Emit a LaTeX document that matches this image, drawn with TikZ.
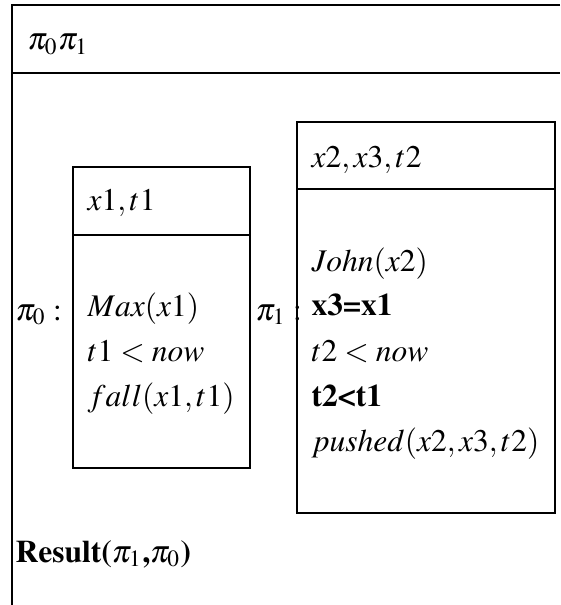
\documentclass[tikz,border=0pt]{standalone}
\usepackage[T1]{fontenc}
\usepackage{mathptmx}
\usetikzlibrary{positioning}

\begin{document}
\begin{tikzpicture}[x=0.3333pt, y=-0.3333pt,
  every node/.style={inner sep=0pt, anchor=base west,
    font=\fontsize{10.5}{13}\selectfont}]
  \useasboundingbox (0,0) rectangle (560,605);
  % outer box (runs off the page right and bottom)
  \coordinate (otr) at (560,5);
  \coordinate (otl) at (12,5);
  \coordinate (obl) at (12,605);
  \coordinate (odl) at (12,73);
  \coordinate (odr) at (560,73);
  \draw (otr) -- (otl) -- (obl);
  \draw (odl) -- (odr);
  \node (top) at (27,50) {$\pi_0\pi_1$};

  % box for pi_0
  \coordinate (ltl) at (73,167);
  \coordinate (lbr) at (250,468);
  \draw (ltl) rectangle (lbr);
  \draw (73,235) -- (250,235);
  \node (lp) at (15,320) {$\pi_0:$};
  \node (lu) at (87,211) {$x1,t1$};
  \node (l1) at (87,316) {$Max(x1)$};
  \node (l2) at (87,361) {$t1<now$};
  \node (l3) at (87,406) {$fall(x1,t1)$};

  % box for pi_1
  \coordinate (rtl) at (297,122);
  \coordinate (rbr) at (555,513);
  \draw (rtl) rectangle (rbr);
  \draw (297,189) -- (555,189);
  \node (rp) at (255,320) {$\pi_1:$};
  \node (ru) at (311,168) {$x2,x3,t2$};
  \node (r1) at (311,272) {$John(x2)$};
  \node (r2) at (311,315) {\textbf{x3=x1}};
  \node (r3) at (311,361) {$t2<now$};
  \node (r4) at (311,406) {\textbf{t2<t1}};
  \node (r5) at (311,451) {$pushed(x2,x3,t2)$};

  \node (res) at (15,562) {\textbf{Result($\pi_1$,$\pi_0$)}};
\end{tikzpicture}
\end{document}
